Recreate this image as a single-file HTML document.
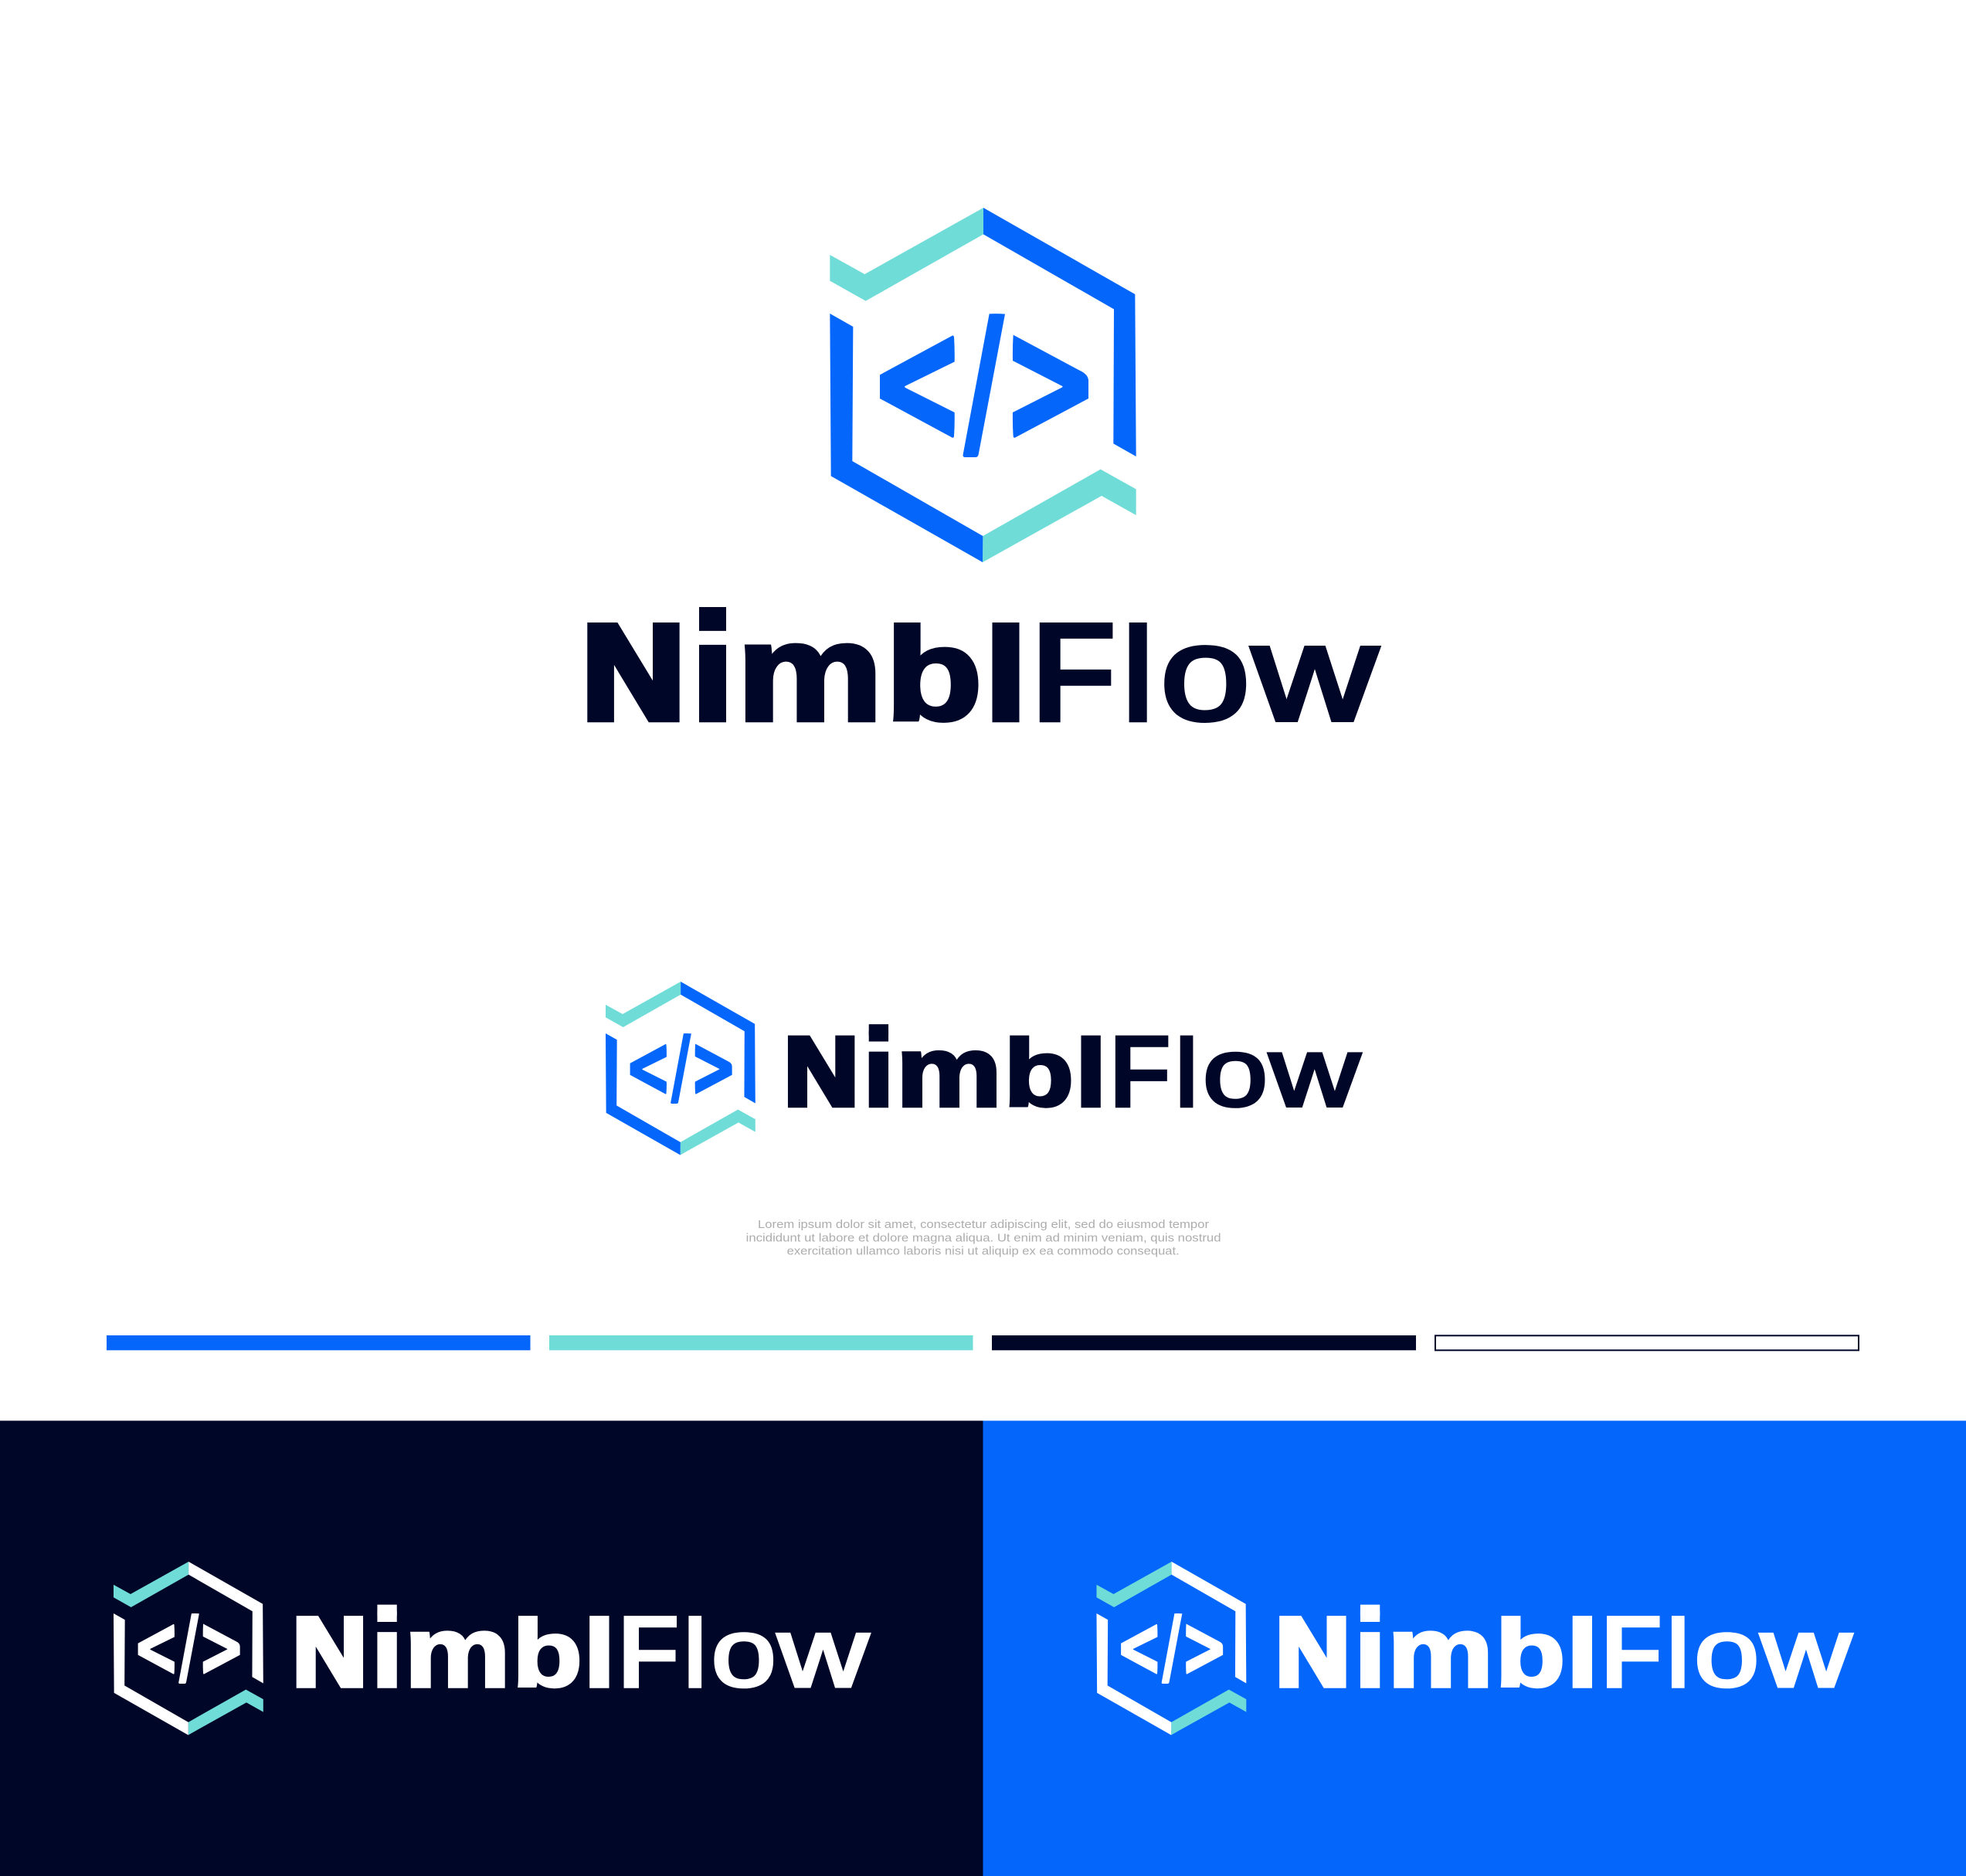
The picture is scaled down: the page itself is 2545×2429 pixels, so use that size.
<!DOCTYPE html>
<html>
<head>
<meta charset="utf-8">
<title>NimblFlow</title>
<style>
html,body{margin:0;padding:0;background:#fff;width:2545px;height:2429px;overflow:hidden}
svg{display:block}
.w text{font-family:"Liberation Sans",sans-serif;font-weight:700;font-size:100px;stroke-linejoin:miter}
.w text.r{font-weight:400}
.l text{font-family:"Liberation Sans",sans-serif;font-size:15px;fill:#adadad;text-anchor:start}
</style>
</head>
<body>
<svg xmlns="http://www.w3.org/2000/svg" width="2545" height="2429" viewBox="0 0 2545 2429">
<defs>
<g id="mark">
<path fill="#6fdcd8" d="M103 240L238 315L699 57V160L242 419L103 341Z"/>
<path fill="#6fdcd8" d="M697 1332L1154 1073L1292 1150V1251L1158 1176L696 1434Z"/>
<path fill="currentColor" d="M699 57L1288 393L1292 1023L1204 973L1206 451L699 160Z"/>
<path fill="currentColor" d="M103 468L193 519L190 1041L697 1332L696 1434L107 1099Z"/>
<path fill="currentColor" d="M297 706L578 554Q584 552 585 560Q588 605 587 655L398 748Q388 752 398 757L587 852Q588 900 585 944Q584 952 578 950L297 798Z"/>
<path fill="currentColor" d="M815 551L1075 690Q1107 705 1107 730V798L822 950Q816 952 815 944Q812 900 813 852L1002 756Q1012 752 1002 748L813 651Q812 600 815 551Z"/>
<path fill="currentColor" d="M722 469Q752 467 783 470L680 1015Q678 1026 668 1026L628 1026Q618 1026 620 1015Z"/>
</g>
</defs>

<rect x="0" y="1839.5" width="1272.5" height="590" fill="#000628"/>
<rect x="1272.5" y="1839.5" width="1272.5" height="590" fill="#0466fb"/>

<rect x="138" y="1729" width="548.5" height="19.3" fill="#0466fb"/>
<rect x="711" y="1729" width="548.5" height="19.3" fill="#6fdcd8"/>
<rect x="1284" y="1729" width="549" height="19.3" fill="#000628"/>
<rect x="1858" y="1729.3" width="548" height="19" fill="#fff" stroke="#000628" stroke-width="2"/>

<use href="#mark" transform="translate(1040 250) scale(.33333)" style="color:#0466fb"/>
<use href="#mark" transform="translate(767.2 1261.7) scale(.163)" style="color:#0466fb"/>
<use href="#mark" transform="translate(130.2 2012.7) scale(.163)" style="color:#fff"/>
<use href="#mark" transform="translate(1402.7 2012.7) scale(.163)" style="color:#fff"/>

<g class="w" fill="#000628" stroke="#000628">
<text transform="translate(753.5 930.1) scale(1.842 1.729)" stroke-width="6">N</text>
<text transform="translate(887.2 935.3) scale(2.55 1.9)" stroke-width="0">i</text>
<rect x="905" y="786" width="35" height="20" stroke="none"/>
<text transform="translate(953.2 932.6) scale(2.138 1.806)" stroke-width="3">m</text>
<text transform="translate(1145.8 931.7) scale(2.064 1.7)" stroke-width="3">b</text>
<text transform="translate(1266.7 935.3) scale(2.55 1.784)" stroke-width="0">l</text>
<text transform="translate(1333.3 935.3) scale(1.865 1.88)" stroke-width="0">F</text>
<text transform="translate(1449.9 935.3) scale(1.68 1.784)" stroke-width="0">l</text>
<text class="r" transform="translate(1501.5 931.7) scale(2.11 1.747)" stroke-width="3">o</text>
<text class="r" transform="translate(1621.5 931.9) scale(2.23 1.758)" stroke-width="3.5">w</text>
</g>

<g class="w" fill="#000628" stroke="#000628" transform="translate(469.5 757.1) scale(.724)">
<text transform="translate(753.5 930.1) scale(1.842 1.729)" stroke-width="6">N</text>
<text transform="translate(887.2 935.3) scale(2.55 1.9)" stroke-width="0">i</text>
<rect x="905" y="786" width="35" height="20" stroke="none"/>
<text transform="translate(953.2 932.6) scale(2.138 1.806)" stroke-width="3">m</text>
<text transform="translate(1145.8 931.7) scale(2.064 1.7)" stroke-width="3">b</text>
<text transform="translate(1266.7 935.3) scale(2.55 1.784)" stroke-width="0">l</text>
<text transform="translate(1333.3 935.3) scale(1.865 1.88)" stroke-width="0">F</text>
<text transform="translate(1449.9 935.3) scale(1.68 1.784)" stroke-width="0">l</text>
<text class="r" transform="translate(1501.5 931.7) scale(2.11 1.747)" stroke-width="3">o</text>
<text class="r" transform="translate(1621.5 931.9) scale(2.23 1.758)" stroke-width="3.5">w</text>
</g>

<g class="w" fill="#fff" stroke="#fff" transform="translate(-166.8 1508.6) scale(.724)">
<text transform="translate(753.5 930.1) scale(1.842 1.729)" stroke-width="6">N</text>
<text transform="translate(887.2 935.3) scale(2.55 1.9)" stroke-width="0">i</text>
<rect x="905" y="786" width="35" height="20" stroke="none"/>
<text transform="translate(953.2 932.6) scale(2.138 1.806)" stroke-width="3">m</text>
<text transform="translate(1145.8 931.7) scale(2.064 1.7)" stroke-width="3">b</text>
<text transform="translate(1266.7 935.3) scale(2.55 1.784)" stroke-width="0">l</text>
<text transform="translate(1333.3 935.3) scale(1.865 1.88)" stroke-width="0">F</text>
<text transform="translate(1449.9 935.3) scale(1.68 1.784)" stroke-width="0">l</text>
<text class="r" transform="translate(1501.5 931.7) scale(2.11 1.747)" stroke-width="3">o</text>
<text class="r" transform="translate(1621.5 931.9) scale(2.23 1.758)" stroke-width="3.5">w</text>
</g>

<g class="w" fill="#fff" stroke="#fff" transform="translate(1105.7 1508.6) scale(.724)">
<text transform="translate(753.5 930.1) scale(1.842 1.729)" stroke-width="6">N</text>
<text transform="translate(887.2 935.3) scale(2.55 1.9)" stroke-width="0">i</text>
<rect x="905" y="786" width="35" height="20" stroke="none"/>
<text transform="translate(953.2 932.6) scale(2.138 1.806)" stroke-width="3">m</text>
<text transform="translate(1145.8 931.7) scale(2.064 1.7)" stroke-width="3">b</text>
<text transform="translate(1266.7 935.3) scale(2.55 1.784)" stroke-width="0">l</text>
<text transform="translate(1333.3 935.3) scale(1.865 1.88)" stroke-width="0">F</text>
<text transform="translate(1449.9 935.3) scale(1.68 1.784)" stroke-width="0">l</text>
<text class="r" transform="translate(1501.5 931.7) scale(2.11 1.747)" stroke-width="3">o</text>
<text class="r" transform="translate(1621.5 931.9) scale(2.23 1.758)" stroke-width="3.5">w</text>
</g>

<g class="l">
<text x="981" y="1590" textLength="584" lengthAdjust="spacingAndGlyphs">Lorem ipsum dolor sit amet, consectetur adipiscing elit, sed do eiusmod tempor</text>
<text x="965.6" y="1607.3" textLength="615" lengthAdjust="spacingAndGlyphs">incididunt ut labore et dolore magna aliqua. Ut enim ad minim veniam, quis nostrud</text>
<text x="1018.7" y="1624.6" textLength="508" lengthAdjust="spacingAndGlyphs">exercitation ullamco laboris nisi ut aliquip ex ea commodo consequat.</text>
</g>
</svg>
</body>
</html>
